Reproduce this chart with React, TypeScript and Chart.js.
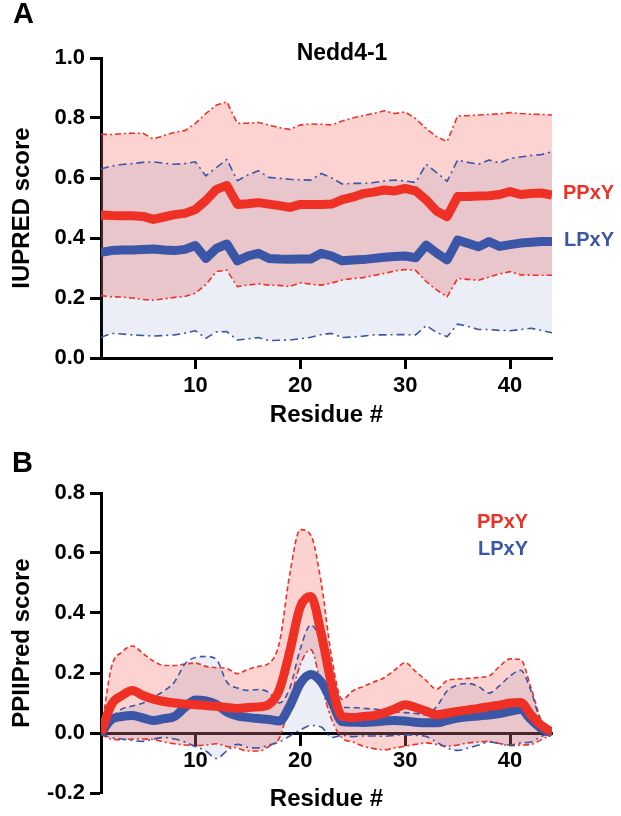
import React, { useEffect, useRef } from "react";
import { Chart, registerables } from "chart.js";

Chart.register(...registerables);

const FONT = '"Liberation Sans", Arial, Helvetica, sans-serif';
const RED = "#ee3124";
const BLUE = "#3b56a6";
const RED_FILL = "rgba(245,110,100,0.3)";
const BLUE_FILL = "rgba(60,90,170,0.1)";

// ---------- data ----------
const residues = [
  1, 2, 3, 4, 5, 6, 7, 8, 9, 10, 11, 12, 13, 14, 15, 16, 17, 18, 19, 20, 21, 22,
  23, 24, 25, 26, 27, 28, 29, 30, 31, 32, 33, 34, 35, 36, 37, 38, 39, 40, 41, 42,
  43, 44,
];
const xTicks = [10, 20, 30, 40];
const seriesNames = ["PPxY", "LPxY"];
const panelLetters = ["A", "B"];
const titleA = "Nedd4-1";
const xTitle = "Residue #";
const yTitleA = "IUPRED score";
const yTitleB = "PPIIPred score";
const yTicksA = [0, 0.2, 0.4, 0.6, 0.8, 1.0];
const yTickLabelsA = ["0.0", "0.2", "0.4", "0.6", "0.8", "1.0"];
const yTicksB = [-0.2, 0, 0.2, 0.4, 0.6, 0.8];
const yTickLabelsB = ["-0.2", "0.0", "0.2", "0.4", "0.6", "0.8"];

// Panel A (IUPRED)
const redMeanA = [
  0.477, 0.475, 0.474, 0.474, 0.472, 0.462, 0.47, 0.478, 0.482, 0.495,
  0.525, 0.562, 0.575, 0.512, 0.514, 0.518, 0.513, 0.508, 0.502, 0.512,
  0.512, 0.512, 0.513, 0.528, 0.536, 0.548, 0.553, 0.56, 0.557, 0.565,
  0.557, 0.527, 0.49, 0.471, 0.538, 0.538, 0.54, 0.541, 0.545, 0.555,
  0.545, 0.548, 0.55, 0.543,
];
const blueMeanA = [
  0.352, 0.358, 0.36, 0.36, 0.362, 0.363, 0.36, 0.358, 0.362, 0.375,
  0.332, 0.365, 0.38, 0.324, 0.34, 0.349, 0.332, 0.33, 0.329, 0.33,
  0.33, 0.349, 0.34, 0.324, 0.327, 0.328, 0.332, 0.336, 0.338, 0.34,
  0.334, 0.376, 0.35, 0.327, 0.393, 0.382, 0.371, 0.388, 0.372, 0.378,
  0.383, 0.386, 0.388, 0.388,
];
const redUpperA = [
  0.746, 0.745, 0.748, 0.749, 0.749, 0.73, 0.742, 0.752, 0.758, 0.782,
  0.815, 0.843, 0.854, 0.782, 0.783, 0.785, 0.777, 0.768, 0.762, 0.777,
  0.78, 0.779, 0.777, 0.79, 0.8, 0.808, 0.815, 0.824, 0.815, 0.82,
  0.798, 0.765, 0.738, 0.721, 0.807, 0.808, 0.81, 0.812, 0.814, 0.818,
  0.815, 0.813, 0.812, 0.81,
];
const redLowerA = [
  0.208, 0.204, 0.203, 0.2, 0.195, 0.193, 0.197, 0.202, 0.205, 0.216,
  0.245, 0.288, 0.293, 0.238, 0.243, 0.247, 0.243, 0.242, 0.238, 0.251,
  0.246, 0.243, 0.25, 0.26, 0.265, 0.268, 0.275, 0.282, 0.29, 0.295,
  0.292, 0.255, 0.227, 0.204, 0.265, 0.262, 0.259, 0.27, 0.28, 0.288,
  0.277, 0.276, 0.276, 0.276,
];
const blueUpperA = [
  0.63, 0.64, 0.645, 0.648, 0.652, 0.654, 0.649, 0.646, 0.648, 0.654,
  0.607, 0.635, 0.662, 0.591, 0.61, 0.624, 0.602, 0.599, 0.596, 0.594,
  0.593, 0.615, 0.6, 0.58, 0.582, 0.582, 0.585, 0.59, 0.593, 0.59,
  0.585, 0.646, 0.618, 0.589, 0.66, 0.652, 0.646, 0.66, 0.65, 0.665,
  0.67, 0.675, 0.678, 0.688,
];
const blueLowerA = [
  0.069, 0.082, 0.08, 0.077, 0.075, 0.073, 0.075, 0.077, 0.083, 0.091,
  0.066, 0.087, 0.088, 0.06, 0.064, 0.068, 0.058, 0.059, 0.06, 0.064,
  0.069, 0.078, 0.082, 0.068, 0.07, 0.073, 0.077, 0.077, 0.078, 0.078,
  0.077, 0.108, 0.085, 0.071, 0.113, 0.105, 0.095, 0.095, 0.092, 0.091,
  0.095, 0.099, 0.092, 0.084,
];

// Panel B (PPIIPred)
const redMeanB = [
  0.0, 0.095, 0.125, 0.142, 0.125, 0.113, 0.105, 0.1, 0.097, 0.094,
  0.092, 0.089, 0.085, 0.082, 0.085, 0.087, 0.095, 0.144, 0.272, 0.42,
  0.455, 0.33, 0.16, 0.055, 0.052, 0.055, 0.058, 0.067, 0.08, 0.094,
  0.085, 0.073, 0.061, 0.066, 0.072, 0.077, 0.082, 0.088, 0.093, 0.1,
  0.102, 0.06, 0.025, 0.003,
];
const blueMeanB = [
  0.0, 0.045, 0.055, 0.058, 0.05, 0.042, 0.048, 0.055, 0.085, 0.11,
  0.107, 0.095, 0.07, 0.057, 0.052, 0.048, 0.045, 0.04, 0.09, 0.165,
  0.195, 0.17, 0.105, 0.038, 0.036, 0.035, 0.037, 0.04, 0.042, 0.04,
  0.036, 0.034, 0.034, 0.042, 0.05, 0.054, 0.057, 0.06, 0.065, 0.072,
  0.078, 0.045, 0.015, 0.0,
];
const redUpperB = [
  0.0, 0.22, 0.27, 0.29, 0.265, 0.24, 0.225, 0.225, 0.23, 0.233,
  0.222, 0.218, 0.215, 0.198, 0.212, 0.222, 0.232, 0.3, 0.53, 0.678,
  0.66, 0.5, 0.25, 0.112, 0.14, 0.155, 0.17, 0.184, 0.21, 0.234,
  0.205, 0.175, 0.146, 0.175, 0.18, 0.182, 0.185, 0.19, 0.222, 0.247,
  0.245, 0.15, 0.04, 0.0,
];
const redLowerB = [
  -0.005, -0.02, -0.022, -0.02, -0.02, -0.022, -0.03, -0.036, -0.04, -0.042,
  -0.04, -0.036, -0.045, -0.05, -0.06, -0.06, -0.045, -0.017, 0.1, 0.228,
  0.278, 0.158, 0.044, -0.017, -0.03, -0.044, -0.052, -0.056, -0.05, -0.044,
  -0.038, -0.033, -0.038, -0.044, -0.04, -0.033, -0.03, -0.028, -0.035, -0.042,
  -0.04, -0.038, -0.022, -0.005,
];
const blueUpperB = [
  0.0, 0.05, 0.08, 0.09, 0.1, 0.12, 0.14, 0.17, 0.23, 0.252,
  0.255, 0.245, 0.17, 0.15, 0.142, 0.145, 0.135, 0.1, 0.15, 0.28,
  0.36, 0.3, 0.15, 0.085, 0.085, 0.082, 0.08, 0.075, 0.07, 0.068,
  0.065, 0.06, 0.088, 0.14, 0.16, 0.165, 0.155, 0.133, 0.158, 0.19,
  0.209, 0.14, 0.03, 0.0,
];
const blueLowerB = [
  -0.005, -0.015, -0.02, -0.025, -0.028, -0.02, -0.015, -0.02, -0.03, -0.045,
  -0.06, -0.085, -0.06, -0.038, -0.048, -0.05, -0.04, -0.03, -0.01, 0.01,
  0.025, 0.02, -0.015, -0.008, -0.012, -0.01, -0.01, -0.011, -0.008, -0.006,
  -0.008, -0.012, -0.03, -0.05, -0.058, -0.05, -0.04, -0.03, -0.035, -0.04,
  -0.033, -0.03, -0.011, 0.0,
];

// ---------- helpers ----------
const pts = (vals: number[]) => vals.map((v, i) => ({ x: residues[i], y: v }));

type TextItem = {
  text: string;
  x: number;
  y: number;
  size: number;
  color: string;
  align: CanvasTextAlign;
  baseline: CanvasTextBaseline;
};

const textPlugin = (items: TextItem[]) => ({
  id: "panelTexts",
  afterDraw(chart: any) {
    const ctx = chart.ctx as CanvasRenderingContext2D;
    ctx.save();
    for (const t of items) {
      ctx.font = `bold ${t.size}px ${FONT}`;
      ctx.fillStyle = t.color;
      ctx.textAlign = t.align;
      ctx.textBaseline = t.baseline;
      ctx.fillText(t.text, t.x, t.y);
    }
    ctx.restore();
  },
});

type PanelSpec = {
  height: number;
  redMean: number[];
  blueMean: number[];
  redUp: number[];
  redLo: number[];
  blueUp: number[];
  blueLo: number[];
  smooth: boolean;
  dashRedUp: number[];
  dashRedLo: number[];
  dashBlueUp: number[];
  dashBlueLo: number[];
  yMin: number;
  yMax: number;
  yTicks: number[];
  yTickLabels: string[];
  yTitle: string;
  xPosition: any;
  xHeight: number;
  xTitlePad: number;
  padding: { left: number; top: number; right: number; bottom: number };
  texts: TextItem[];
};

function makeConfig(p: PanelSpec): any {
  const base = (data: number[], color: string, width: number, dash: number[]) => ({
    data: pts(data),
    borderColor: color,
    borderWidth: width,
    borderDash: dash,
    pointRadius: 0,
    pointHoverRadius: 0,
    fill: false,
    tension: p.smooth ? 0.4 : 0,
    cubicInterpolationMode: p.smooth ? "monotone" : "default",
    borderJoinStyle: "round",
    borderCapStyle: "butt",
  });
  const datasets = [
    { ...base(p.redMean, RED, 9, []), label: seriesNames[0] },
    { ...base(p.blueMean, BLUE, 9, []), label: seriesNames[1] },
    { ...base(p.blueUp, BLUE, 1.6, p.dashBlueUp), fill: "+1", backgroundColor: BLUE_FILL },
    { ...base(p.blueLo, BLUE, 1.6, p.dashBlueLo) },
    { ...base(p.redUp, RED, 1.6, p.dashRedUp), fill: "+1", backgroundColor: RED_FILL },
    { ...base(p.redLo, RED, 1.6, p.dashRedLo) },
  ];
  const tickFont = { family: FONT, size: 22, weight: "bold" as const };
  const titleFont = { family: FONT, size: 24, weight: "bold" as const };
  return {
    type: "line",
    data: { datasets },
    options: {
      responsive: false,
      animation: false,
      events: [],
      layout: { padding: p.padding },
      plugins: {
        legend: { display: false },
        tooltip: { enabled: false },
        filler: { drawTime: "beforeDatasetsDraw", propagate: false },
      },
      scales: {
        x: {
          type: "linear",
          min: residues[0],
          max: residues[residues.length - 1],
          position: p.xPosition,
          afterBuildTicks: (s: any) => {
            s.ticks = xTicks.map((v) => ({ value: v }));
          },
          afterFit: (s: any) => {
            s.height = p.xHeight;
          },
          grid: {
            display: true,
            drawOnChartArea: false,
            drawTicks: true,
            tickLength: 11,
            tickWidth: 3,
            tickColor: "#000",
            color: "#000",
          },
          border: { display: true, color: "#000", width: 3 },
          ticks: {
            color: "#000",
            font: tickFont,
            padding: 4,
            maxRotation: 0,
            autoSkip: false,
            callback: (v: any) => String(v),
          },
          title: {
            display: true,
            text: xTitle,
            color: "#000",
            font: titleFont,
            padding: { top: 0, bottom: p.xTitlePad },
          },
        },
        y: {
          type: "linear",
          min: p.yMin,
          max: p.yMax,
          afterBuildTicks: (s: any) => {
            s.ticks = p.yTicks.map((v) => ({ value: v }));
          },
          afterFit: (s: any) => {
            s.width = 101;
          },
          grid: {
            display: true,
            drawOnChartArea: false,
            drawTicks: true,
            tickLength: 11,
            tickWidth: 3,
            tickColor: "#000",
            color: "#000",
          },
          border: { display: true, color: "#000", width: 3 },
          ticks: {
            color: "#000",
            font: tickFont,
            padding: 5,
            autoSkip: false,
            callback: (_v: any, i: number) => p.yTickLabels[i],
          },
          title: {
            display: true,
            text: p.yTitle,
            color: "#000",
            font: titleFont,
            padding: { top: 8, bottom: 0 },
          },
        },
      },
    },
    plugins: [textPlugin(p.texts)],
  };
}

function Panel({ spec, top }: { spec: PanelSpec; top: number }) {
  const ref = useRef<HTMLCanvasElement>(null);
  useEffect(() => {
    if (!ref.current) return;
    const chart = new Chart(ref.current, makeConfig(spec));
    return () => chart.destroy();
  }, [spec]);
  return (
    <canvas
      ref={ref}
      width={621}
      height={spec.height}
      style={{ position: "absolute", left: 0, top, width: 621, height: spec.height }}
    />
  );
}

const specA: PanelSpec = {
  height: 430,
  redMean: redMeanA,
  blueMean: blueMeanA,
  redUp: redUpperA,
  redLo: redLowerA,
  blueUp: blueUpperA,
  blueLo: blueLowerA,
  smooth: false,
  dashRedUp: [6, 3, 2, 3],
  dashRedLo: [6, 3, 2, 3],
  dashBlueUp: [8, 4, 2, 4],
  dashBlueLo: [8, 4, 2, 4],
  yMin: 0,
  yMax: 1,
  yTicks: yTicksA,
  yTickLabels: yTickLabelsA,
  yTitle: yTitleA,
  xPosition: "bottom",
  xHeight: 72,
  xTitlePad: 0,
  padding: { left: 0, top: 58, right: 69, bottom: 0 },
  texts: [
    { text: panelLetters[0], x: 13, y: 23, size: 29, color: "#000", align: "left", baseline: "alphabetic" },
    { text: titleA, x: 342, y: 60, size: 23, color: "#000", align: "center", baseline: "alphabetic" },
    { text: seriesNames[0], x: 563, y: 193, size: 20, color: RED, align: "left", baseline: "middle" },
    { text: seriesNames[1], x: 564, y: 240, size: 20, color: BLUE, align: "left", baseline: "middle" },
  ],
};

const specB: PanelSpec = {
  height: 386,
  redMean: redMeanB,
  blueMean: blueMeanB,
  redUp: redUpperB,
  redLo: redLowerB,
  blueUp: blueUpperB,
  blueLo: blueLowerB,
  smooth: true,
  dashRedUp: [5, 3],
  dashRedLo: [6, 3, 2, 3],
  dashBlueUp: [6, 4],
  dashBlueLo: [8, 4, 2, 4],
  yMin: -0.2,
  yMax: 0.8,
  yTicks: yTicksB,
  yTickLabels: yTickLabelsB,
  yTitle: yTitleB,
  xPosition: { y: 0 },
  xHeight: 90,
  xTitlePad: 9,
  padding: { left: 0, top: 63, right: 69, bottom: 23 },
  texts: [
    { text: panelLetters[1], x: 12, y: 42, size: 29, color: "#000", align: "left", baseline: "alphabetic" },
    { text: seriesNames[0], x: 477, y: 92, size: 20, color: RED, align: "left", baseline: "middle" },
    { text: seriesNames[1], x: 478, y: 119.5, size: 20, color: BLUE, align: "left", baseline: "middle" },
  ],
};

export default function App() {
  return (
    <div
      style={{
        position: "fixed",
        left: 0,
        top: 0,
        width: 621,
        height: 816,
        background: "#fff",
        overflow: "hidden",
      }}
    >
      <Panel spec={specA} top={0} />
      <Panel spec={specB} top={430} />
    </div>
  );
}
